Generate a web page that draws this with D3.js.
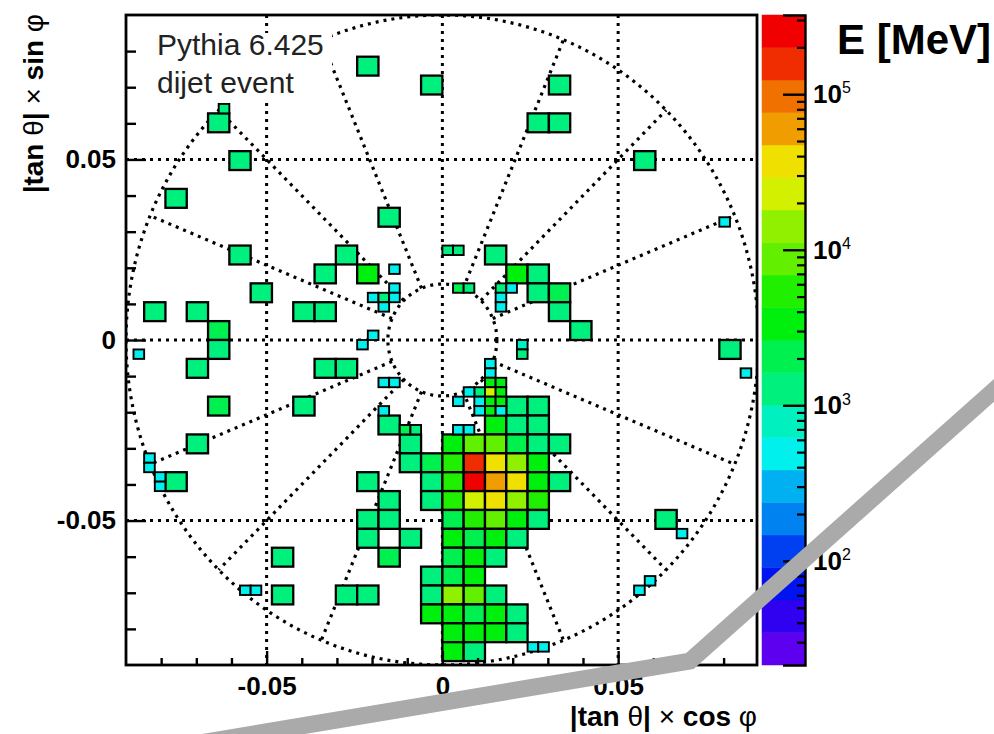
<!DOCTYPE html>
<html>
<head>
<meta charset="utf-8">
<script src="https://cdn.jsdelivr.net/npm/d3@7"></script>
<style>
  body { margin: 0; background: #fff; }
  svg { display: block; }
  text { font-family: "Liberation Sans", Arial, Helvetica, sans-serif; }
</style>
</head>
<body>
<svg id="chart" width="994" height="734"></svg>
<script>
// ---- axis ranges and labels ----
const xDomain = [-0.09, 0.0895];
const yDomain = [-0.09, 0.09];
const xMajorTicks = [-0.05, 0, 0.05];
const yMajorTicks = [-0.05, 0, 0.05];
const xTickLabels = ["-0.05", "0", "0.05"];
const yTickLabels = ["-0.05", "0", "0.05"];
const xMinorTicks = [-0.08, -0.07, -0.06, -0.04, -0.03, -0.02, -0.01, 0.01, 0.02, 0.03, 0.04, 0.06, 0.07, 0.08];
const yMinorTicks = [-0.08, -0.07, -0.06, -0.04, -0.03, -0.02, -0.01, 0.01, 0.02, 0.03, 0.04, 0.06, 0.07, 0.08];

// ---- calorimeter tower grid (pitch of a coarse tower) ----
const towerDX = 0.00606;
const towerDY = 0.00523;

// coarse towers: [column, row, energy in MeV]
const coarseTowers = [
  [-4, 14, 1250], [-1, 13, 1300], [5, 13, 1350], [4, 11, 1300], [5, 11, 1250],
  [-11, 11, 1300], [-10, 9, 1350], [9, 9, 1300], [-13, 7, 1350], [-3, 6, 1300],
  [-10, 4, 1300], [-5, 4, 1350], [2, 4, 1300], [-6, 3, 1300], [-4, 3, 3600],
  [3, 3, 3400], [4, 3, 1400], [-9, 2, 1300], [4, 2, 1300], [5, 2, 1900],
  [-14, 1, 1300], [-12, 1, 1300], [-7, 1, 1350], [-6, 1, 1300], [5, 1, 1300],
  [-11, 0, 2500], [6, 0, 1350], [-11, -1, 1300], [13, -1, 1300], [-12, -2, 1300],
  [-6, -2, 1350], [-5, -2, 1300], [-11, -4, 2600], [-7, -4, 1300], [-12, -6, 1300],
  [-13, -8, 1300], [-4, -8, 1300], [10, -10, 1350], [-8, -12, 1350], [-8, -14, 1300],
  [-5, -14, 1350], [-4, -14, 1300],
  // jet core
  [3, -4, 1350], [4, -4, 1250],
  [-3, -5, 1200], [2, -5, 4000], [3, -5, 1500], [4, -5, 1300],
  [-2, -6, 1400], [0, -6, 3000], [1, -6, 9500], [2, -6, 8000], [3, -6, 1700], [4, -6, 1500], [5, -6, 1300],
  [-2, -7, 1300], [-1, -7, 1800], [0, -7, 4500], [1, -7, 170000], [2, -7, 40000], [3, -7, 13000], [4, -7, 3600],
  [-1, -8, 1600], [0, -8, 5000], [1, -8, 250000], [2, -8, 62000], [3, -8, 38000], [4, -8, 4200], [5, -8, 1400],
  [-3, -9, 1300], [-1, -9, 1500], [0, -9, 4800], [1, -9, 26000], [2, -9, 33000], [3, -9, 15000], [4, -9, 5000],
  [-4, -10, 1300], [-3, -10, 1400], [0, -10, 1700], [1, -10, 4500], [2, -10, 8000], [3, -10, 4000], [4, -10, 1400],
  [-4, -11, 1250], [-2, -11, 1350], [0, -11, 3500], [1, -11, 1800], [2, -11, 3800], [3, -11, 1600],
  [-3, -12, 2600], [0, -12, 1700], [1, -12, 3600], [2, -12, 1500],
  [-1, -13, 1400], [0, -13, 1900], [1, -13, 3800],
  [-1, -14, 1500], [0, -14, 12000], [1, -14, 7500], [2, -14, 1500],
  [-1, -15, 3200], [0, -15, 3800], [1, -15, 1800], [2, -15, 3400], [3, -15, 1500],
  [0, -16, 3500], [1, -16, 3800], [2, -16, 3200], [3, -16, 1400],
  [0, -17, 3400], [1, -17, 1600]
];

// fine towers (half pitch): [column, row, energy in MeV]
const fineTowers = [
  [-5, 7, 500], [-5, 5, 480], [-7, 4, 470], [-6, 4, 1500], [-5, 4, 520], [-6, 3, 500],
  [-7, 0, 500], [-8, -1, 480], [-6, -5, 520], [-5, -5, 500], [-6, -8, 460],
  [-4, -10, 1700], [-3, -10, 1400], [0, 9, 1200], [1, 9, 1250], [1, 5, 2500], [2, 5, 1300],
  [5, 5, 1200], [6, 5, 500], [5, 4, 480], [5, 3, 500], [7, -1, 800], [7, -2, 1200],
  [4, -3, 500], [4, -4, 480], [4, -5, 3500], [5, -5, 3200], [3, -6, 1500], [4, -6, 24000],
  [5, -6, 3300], [2, -6, 500], [1, -7, 500], [3, -7, 500], [4, -7, 3400], [5, -7, 3600],
  [3, -8, 520], [4, -8, 3500], [5, -8, 500], [1, -10, 500], [2, -10, 480],
  [-21, 24, 1300], [-29, -2, 450], [-28, -13, 480], [-28, -14, 480], [-27, -15, 480],
  [-27, -16, 480], [-19, -27, 480], [-18, -27, 480], [8, -33, 480], [9, -33, 480],
  [18, -27, 480], [19, -26, 480], [22, -21, 480], [26, 12, 480], [28, -4, 480]
];

// ---- colour axis ----
const zRange = [21.4, 3.23e5];
const nContours = 20;
const zMajorExponents = [2, 3, 4, 5];

// ---- detector outline ----
const outerRadius = 0.09;
const innerRadius = 0.0155;
const spokeAngles = [22.5, 45, 67.5, 112.5, 135, 157.5, 202.5, 225, 247.5, 292.5, 315, 337.5];

// ---- overlay stroke ----
const overlayX = [-0.069, 0.0704, 0.1615];
const overlayY = [-0.1116, -0.0889, -0.00997];

// ---- caption ----
const captionLines = ["Pythia 6.425", "dijet event"];

// =====================================================
const plot = { left: 126, right: 757, top: 15, bottom: 665 };
const bar = { left: 762, right: 805 };
const svg = d3.select("#chart");

const x = d3.scaleLinear().domain(xDomain).range([plot.left, plot.right]);
const y = d3.scaleLinear().domain(yDomain).range([plot.bottom, plot.top]);
const z = d3.scaleLog().domain(zRange).range([plot.bottom, plot.top]);

const logMin = Math.log10(zRange[0]);
const logMax = Math.log10(zRange[1]);
const logStep = (logMax - logMin) / nContours;

function contourIndex(e) {
  const c = Math.floor((Math.log10(e) - logMin) / logStep);
  return Math.max(0, Math.min(nContours - 1, c));
}
// 50-colour rainbow palette sampled at the contour levels
function paletteColor(c) {
  const k = Math.floor((c + 0.99) * 50 / nContours);
  const hue = 280 - (k + 1) * 5.6;
  return d3.hsl(hue, 1, 0.47).formatHex();
}

svg.append("defs").append("clipPath").attr("id", "plotClip")
  .append("rect")
  .attr("x", plot.left).attr("y", plot.top)
  .attr("width", plot.right - plot.left).attr("height", plot.bottom - plot.top);

// ---- grid ----
const grid = svg.append("g").attr("stroke", "#000").attr("stroke-width", 3)
  .attr("stroke-dasharray", "3,5").attr("fill", "none");
grid.selectAll("line.gx").data(xMajorTicks).join("line")
  .attr("class", "gx")
  .attr("x1", d => x(d)).attr("x2", d => x(d))
  .attr("y1", plot.top).attr("y2", plot.bottom);
grid.selectAll("line.gy").data(yMajorTicks).join("line")
  .attr("class", "gy")
  .attr("y1", d => y(d)).attr("y2", d => y(d))
  .attr("x1", plot.left).attr("x2", plot.right);

// ---- detector outline ----
const geo = svg.append("g").attr("clip-path", "url(#plotClip)")
  .attr("stroke", "#000").attr("stroke-width", 3.2)
  .attr("stroke-dasharray", "3,5").attr("fill", "none");
const ring = d3.line().x(a => x(a.r * Math.cos(a.t))).y(a => y(a.r * Math.sin(a.t)));
[outerRadius, innerRadius].forEach(r => {
  geo.append("path").attr("d", ring(d3.range(0, 361, 1).map(deg => ({ r, t: deg * Math.PI / 180 }))));
});
geo.selectAll("line.spoke").data(spokeAngles).join("line")
  .attr("class", "spoke")
  .attr("x1", d => x(innerRadius * Math.cos(d * Math.PI / 180)))
  .attr("y1", d => y(innerRadius * Math.sin(d * Math.PI / 180)))
  .attr("x2", d => x(outerRadius * Math.cos(d * Math.PI / 180)))
  .attr("y2", d => y(outerRadius * Math.sin(d * Math.PI / 180)));

// ---- caption box ----
svg.append("rect").attr("x", 145).attr("y", 33).attr("width", 187).attr("height", 70).attr("fill", "#fff");
svg.selectAll("text.caption").data(captionLines).join("text")
  .attr("class", "caption")
  .attr("x", 157).attr("y", (d, i) => 55 + i * 38)
  .attr("font-size", 30).attr("fill", "#222")
  .text(d => d);

// ---- towers ----
function drawTowers(list, w, h, sw) {
  svg.append("g").selectAll("rect").data(list).join("rect")
    .attr("x", d => x(d[0] * w))
    .attr("y", d => y((d[1] + 1) * h))
    .attr("width", d => x((d[0] + 1) * w) - x(d[0] * w))
    .attr("height", d => y(d[1] * h) - y((d[1] + 1) * h))
    .attr("fill", d => paletteColor(contourIndex(d[2])))
    .attr("stroke", "#000").attr("stroke-width", sw);
}
drawTowers(coarseTowers, towerDX, towerDY, 2.3);
drawTowers(fineTowers, towerDX / 2, towerDY / 2, 1.9);

// ---- axes ----
const fontTick = 26;
const xAxisG = svg.append("g").attr("transform", `translate(0,${plot.bottom})`);
xAxisG.call(d3.axisBottom(x).tickValues(xMajorTicks).tickFormat((d, i) => xTickLabels[i])
  .tickSize(-14).tickPadding(12))
  .call(g => g.select(".domain").remove());
xAxisG.selectAll("text").attr("font-size", fontTick).attr("font-weight", "bold").attr("fill", "#000")
  .attr("font-family", "Liberation Sans, Arial, sans-serif");
xAxisG.selectAll("line").attr("stroke-width", 2.4);
const xMinorG = svg.append("g").attr("transform", `translate(0,${plot.bottom})`);
xMinorG.call(d3.axisBottom(x).tickValues(xMinorTicks).tickFormat("").tickSize(-7))
  .call(g => g.select(".domain").remove());
xMinorG.selectAll("line").attr("stroke-width", 2.4);

const yAxisG = svg.append("g").attr("transform", `translate(${plot.left},0)`);
yAxisG.call(d3.axisLeft(y).tickValues(yMajorTicks).tickFormat((d, i) => yTickLabels[i])
  .tickSize(-20).tickPadding(10))
  .call(g => g.select(".domain").remove());
yAxisG.selectAll("text").attr("font-size", fontTick).attr("font-weight", "bold").attr("fill", "#000")
  .attr("font-family", "Liberation Sans, Arial, sans-serif");
yAxisG.selectAll("line").attr("stroke-width", 2.4);
const yMinorG = svg.append("g").attr("transform", `translate(${plot.left},0)`);
yMinorG.call(d3.axisLeft(y).tickValues(yMinorTicks).tickFormat("").tickSize(-10))
  .call(g => g.select(".domain").remove());
yMinorG.selectAll("line").attr("stroke-width", 2.4);

// frame
svg.append("rect").attr("x", plot.left).attr("y", plot.top)
  .attr("width", plot.right - plot.left).attr("height", plot.bottom - plot.top)
  .attr("fill", "none").attr("stroke", "#000").attr("stroke-width", 2.8);

// axis titles
function symbolTitle(sel, parts) {
  parts.forEach(p => {
    sel.append("tspan").attr("font-weight", p[1] ? "bold" : "normal").text(p[0]);
  });
}
const xTitle = svg.append("text").attr("x", plot.right).attr("y", 726)
  .attr("text-anchor", "end").attr("font-size", 28);
symbolTitle(xTitle, [["|tan ", true], ["θ", false], ["| ", true], ["× ", false], ["cos ", true], ["φ", false]]);
const yTitle = svg.append("text").attr("transform", "translate(43,14) rotate(-90)")
  .attr("text-anchor", "end").attr("font-size", 28);
symbolTitle(yTitle, [["|tan ", true], ["θ", false], ["| ", true], ["× ", false], ["sin ", true], ["φ", false]]);

// ---- colour bar ----
const bands = d3.range(nContours);
svg.append("g").selectAll("rect").data(bands).join("rect")
  .attr("x", bar.left).attr("width", bar.right - bar.left)
  .attr("y", c => z(Math.pow(10, logMin + (c + 1) * logStep)))
  .attr("height", c => z(Math.pow(10, logMin + c * logStep)) - z(Math.pow(10, logMin + (c + 1) * logStep)))
  .attr("fill", c => paletteColor(c))
  .attr("stroke", c => paletteColor(c)).attr("stroke-width", 0.5);

const zMajor = zMajorExponents.map(e => Math.pow(10, e));
const zMinor = [];
for (let e = 1; e <= 5; e++) for (let m = 2; m <= 9; m++) {
  const v = m * Math.pow(10, e);
  if (v > zRange[0] && v < zRange[1]) zMinor.push(v);
}
const zAxisG = svg.append("g").attr("transform", `translate(${bar.right},0)`);
zAxisG.call(d3.axisRight(z).tickValues(zMajor).tickFormat(() => "10").tickSize(-22).tickPadding(8));
zAxisG.select(".domain").attr("stroke-width", 2.4);
zAxisG.selectAll("line").attr("stroke-width", 2.4);
zAxisG.selectAll("text").attr("font-size", fontTick).attr("font-weight", "bold").attr("fill", "#000")
  .attr("font-family", "Liberation Sans, Arial, sans-serif")
  .each(function (d, i) {
    d3.select(this).append("tspan").attr("dy", "-0.6em").attr("font-size", 16)
      .attr("font-weight", "normal").text(zMajorExponents[i]);
  });
const zMinorG = svg.append("g").attr("transform", `translate(${bar.right},0)`);
zMinorG.call(d3.axisRight(z).tickValues(zMinor).tickFormat("").tickSize(-8))
  .call(g => g.select(".domain").remove());
zMinorG.selectAll("line").attr("stroke-width", 2.2);

svg.append("text").attr("x", 837).attr("y", 54)
  .attr("font-size", 42).attr("font-weight", "bold").text("E [MeV]");

// ---- overlay stroke ----
const overlayLine = d3.line().x(d => x(d[0])).y(d => y(d[1]));
svg.append("path")
  .attr("d", overlayLine(overlayX.map((v, i) => [v, overlayY[i]])))
  .attr("fill", "none").attr("stroke", "#aaaaaa").attr("stroke-width", 17)
  .attr("stroke-linejoin", "miter");
</script>
</body>
</html>
